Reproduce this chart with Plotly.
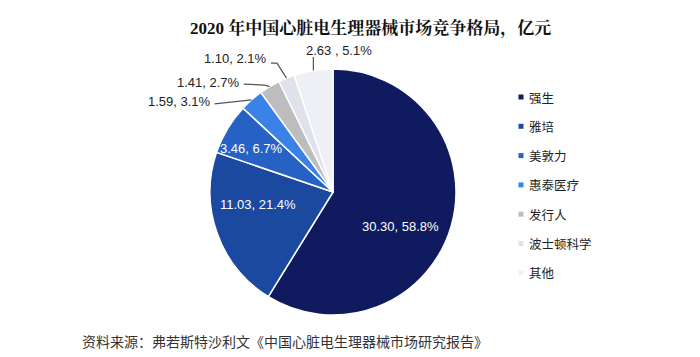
import math
import plotly.graph_objects as go

# ---- data ----
companies = ["强生", "雅培", "美敦力", "惠泰医疗", "发行人", "波士顿科学", "其他"]
revenue = [30.30, 11.03, 3.46, 1.59, 1.41, 1.10, 2.63]
share_pct = [58.8, 21.4, 6.7, 3.1, 2.7, 2.1, 5.1]
value_labels = ["30.30, 58.8%", "11.03, 21.4%", "3.46, 6.7%", "1.59, 3.1%",
                "1.41, 2.7%", "1.10, 2.1%", "2.63 , 5.1%"]
title_text = "2020 年中国心脏电生理器械市场竞争格局，亿元"
source_text = "资料来源：弗若斯特沙利文《中国心脏电生理器械市场研究报告》"

# ---- styles ----
colors = ["#0f1b5e", "#1b49a0", "#2562c4", "#3b82e8", "#bdbdbd", "#dfe2ea", "#eef0f5"]
W, H = 700, 357
OFF = 8                            # page body margin
CX, CY, R = 333, 192, 123          # pie centre / radius in page pixels
SERIF = "Liberation Serif, Noto Serif CJK SC, Noto Sans CJK SC, serif"
CJK = "Noto Sans CJK SC, sans-serif"
SANS = "Liberation Sans, Arial, sans-serif"


def px2paper(x, y):
    return (x - OFF) / W, (H - (y - OFF)) / H


def polar(theta_deg, r):
    t = math.radians(theta_deg)
    return CX + r * math.sin(t), CY - r * math.cos(t)


dx0, dy1 = px2paper(CX - R, CY - R)
dx1, dy0 = px2paper(CX + R, CY + R)
fig = go.Figure(go.Pie(
    labels=companies, values=revenue, sort=False, direction="clockwise",
    rotation=0, marker=dict(colors=colors, line=dict(color="white", width=1.5)),
    textinfo="none", hoverinfo="label+value+percent", showlegend=False,
    domain=dict(x=[dx0, dx1], y=[dy0, dy1]),
))

total = sum(revenue)
mids = []
cum = 0
for v in revenue:
    mids.append((cum + v / 2) / total * 360)
    cum += v

annotations = []
shapes = []

# inside labels: (index, radius fraction, angle offset)
inside = [(0, 0.615, 11.5), (1, 0.62, 10.5), (2, 0.756, -2.7)]
for i, rf, da in inside:
    x, y = polar(mids[i] + da, R * rf)
    px, py = px2paper(x, y)
    annotations.append(dict(x=px, y=py, xref="paper", yref="paper", text=value_labels[i],
                            showarrow=False, font=dict(family=SANS, size=13, color="white"),
                            xanchor="center", yanchor="middle"))

# outside labels: leader polyline offsets (from pie edge) and label anchor
outside = [
    (3, [(-37, 4)], (-39, 2), "right"),
    (4, [(-5, -1.5), (-26, -2.5)], (-28, -4.5), "right"),
    (5, [(-9.5, -15), (-15.5, -15)], (-17.5, -20), "right"),
    (6, [(0, -13.5)], (26, -20), "center"),
]
for i, pts, lab, anchor in outside:
    ex, ey = polar(mids[i], R)
    sx0, sy0 = px2paper(ex, ey)
    path = f"M{sx0},{sy0}"
    for ddx, ddy in pts:
        qx, qy = px2paper(ex + ddx, ey + ddy)
        path += f" L{qx},{qy}"
    shapes.append(dict(type="path", path=path, xref="paper", yref="paper",
                       line=dict(color="#555555", width=1.2)))
    lx, ly = px2paper(ex + lab[0], ey + lab[1])
    annotations.append(dict(x=lx, y=ly, xref="paper", yref="paper", text=value_labels[i],
                            showarrow=False, font=dict(family=SANS, size=13, color="#222222"),
                            xanchor=anchor, yanchor="middle"))

# custom legend
for k, name in enumerate(companies):
    y = 97 + k * 29.3
    x0, y0 = px2paper(518.5, y + 2.5)
    x1, y1 = px2paper(523.5, y - 2.5)
    shapes.append(dict(type="rect", xref="paper", yref="paper", x0=x0, x1=x1, y0=y0, y1=y1,
                       fillcolor=colors[k], line=dict(width=0)))
    tx, ty = px2paper(527, y)
    annotations.append(dict(x=tx, y=ty, xref="paper", yref="paper", text=name, showarrow=False,
                            font=dict(family=CJK, size=12.5, color="#222222"),
                            xanchor="left", yanchor="middle"))

# title and source
tx, ty = px2paper(370, 28)
annotations.append(dict(x=tx, y=ty, xref="paper", yref="paper", text=f"<b>{title_text}</b>",
                        showarrow=False, font=dict(family=SERIF, size=17, color="#111111"),
                        xanchor="center", yanchor="middle"))
sx, sy = px2paper(80, 341)
annotations.append(dict(x=sx, y=sy, xref="paper", yref="paper", text=source_text,
                        showarrow=False, font=dict(family=CJK, size=14, color="#333333"),
                        xanchor="left", yanchor="middle"))

fig.update_layout(width=W, height=H, margin=dict(l=0, r=0, t=0, b=0),
                  paper_bgcolor="white", plot_bgcolor="white",
                  annotations=annotations, shapes=shapes)
fig.write_html("out.html")
